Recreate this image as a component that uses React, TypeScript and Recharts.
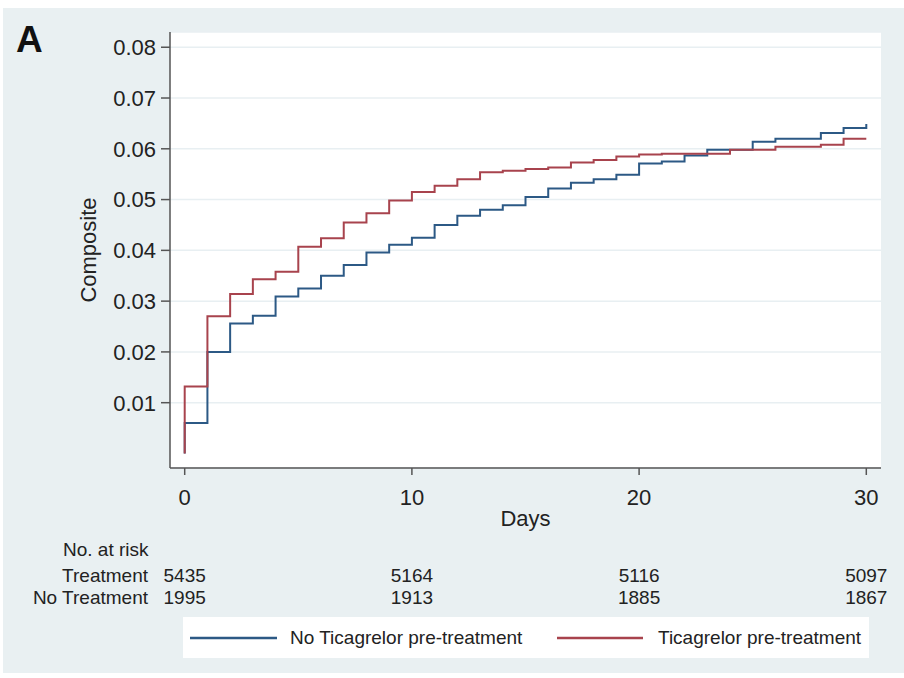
import React from "react";
import { LineChart, Line, XAxis, YAxis, CartesianGrid } from "recharts";

// Kaplan-Meier style cumulative composite event rate.
// day 0 appears twice so the curve starts at zero and jumps at day 0.
const DAYS = [0, 0, 1, 2, 3, 4, 5, 6, 7, 8, 9, 10, 11, 12, 13, 14, 15, 16, 17, 18, 19, 20, 21, 22, 23, 24, 25, 26, 27, 28, 29, 30];

const NO_TICAGRELOR = [
  0, 0.006, 0.02, 0.0256, 0.0271, 0.0309, 0.0325, 0.035, 0.0371, 0.0396, 0.0411,
  0.0425, 0.045, 0.0468, 0.048, 0.0489, 0.0505, 0.0522, 0.0533, 0.054, 0.0549,
  0.0571, 0.0575, 0.0587, 0.0598, 0.0598, 0.0614, 0.062, 0.062, 0.0631, 0.0641, 0.0649,
];

const TICAGRELOR = [
  0, 0.0132, 0.027, 0.0314, 0.0343, 0.0358, 0.0407, 0.0424, 0.0455, 0.0473, 0.0498,
  0.0515, 0.0527, 0.054, 0.0554, 0.0557, 0.056, 0.0563, 0.0573, 0.0578, 0.0585,
  0.0589, 0.059, 0.059, 0.059, 0.0598, 0.0598, 0.0604, 0.0604, 0.0608, 0.062, 0.062,
];

const X_TICKS = [0, 10, 20, 30];
const Y_TICKS = [0.01, 0.02, 0.03, 0.04, 0.05, 0.06, 0.07, 0.08];

const RISK_DAYS = [0, 10, 20, 30];
const RISK_TREATMENT = [5435, 5164, 5116, 5097];
const RISK_NO_TREATMENT = [1995, 1913, 1885, 1867];

const SERIES_NAMES = ["No Ticagrelor pre-treatment", "Ticagrelor pre-treatment"];

const BLUE = "#2c5985";
const RED = "#a8434d";
const FONT = "'Liberation Sans', Arial, Helvetica, sans-serif";

const X_MIN = -0.647;
const X_MAX = 30.647;
const PLOT_LEFT = 170;
const PLOT_WIDTH = 711;

// same mapping as the chart's x axis, used for the risk table under it
const dayToPx = (d: number) => PLOT_LEFT + ((d - X_MIN) / (X_MAX - X_MIN)) * PLOT_WIDTH;

const data = DAYS.map((day, i) => ({
  day,
  noTica: NO_TICAGRELOR[i],
  tica: TICAGRELOR[i],
}));

export default function App() {
  return (
    <div style={{ position: "absolute", left: 0, top: 0, width: 904, height: 678, background: "#fff", fontFamily: FONT }}>
      {/* graph region */}
      <div style={{ position: "absolute", left: 3, top: 8, width: 901, height: 665, background: "#e9f0f2" }} />

      <div style={{ position: "absolute", left: 0, top: 0 }}>
        <LineChart
          width={904}
          height={678}
          data={data}
          margin={{ top: 32, right: 23, bottom: 150, left: 0 }}
          style={{ fontFamily: FONT }}
        >
          <CartesianGrid vertical={false} fill="#ffffff" stroke="#e8eff2" strokeWidth={1.5} />
          <XAxis
            dataKey="day"
            type="number"
            domain={[X_MIN, X_MAX]}
            ticks={X_TICKS}
            allowDataOverflow
            height={60}
            tickSize={7}
            tickMargin={14}
            axisLine={{ stroke: "#555", strokeWidth: 1.5 }}
            tickLine={{ stroke: "#555", strokeWidth: 1.5 }}
            tick={{ fontSize: 22, fill: "#222", fontFamily: FONT }}
            label={{ value: "Days", position: "insideBottom", offset: 2, fontSize: 22, fill: "#222", fontFamily: FONT }}
          />
          <YAxis
            type="number"
            domain={[-0.00286, 0.083]}
            ticks={Y_TICKS}
            allowDataOverflow
            width={170}
            tickSize={9}
            tickMargin={5}
            tickFormatter={(v: number) => v.toFixed(2)}
            axisLine={{ stroke: "#555", strokeWidth: 1.5 }}
            tickLine={{ stroke: "#555", strokeWidth: 1.5 }}
            tick={{ fontSize: 22, fill: "#222", fontFamily: FONT }}
            label={{
              value: "Composite",
              angle: -90,
              position: "insideLeft",
              offset: 88,
              fontSize: 22,
              fill: "#222",
              fontFamily: FONT,
              style: { textAnchor: "middle" },
            }}
          />
          <Line
            type="stepAfter"
            dataKey="noTica"
            name={SERIES_NAMES[0]}
            stroke={BLUE}
            strokeWidth={2}
            dot={false}
            isAnimationActive={false}
          />
          <Line
            type="stepAfter"
            dataKey="tica"
            name={SERIES_NAMES[1]}
            stroke={RED}
            strokeWidth={2}
            dot={false}
            isAnimationActive={false}
          />
        </LineChart>
      </div>

      {/* panel letter, risk table and legend */}
      <svg width={904} height={678} style={{ position: "absolute", left: 0, top: 0, pointerEvents: "none" }} fontFamily={FONT}>
        <text x={16} y={52} fontSize={37} fontWeight="bold" fill="#111">A</text>

        <text x={63} y={556} fontSize={19} fill="#222">No. at risk</text>
        <text x={148} y={582} fontSize={19} fill="#222" textAnchor="end">Treatment</text>
        <text x={148} y={604} fontSize={19} fill="#222" textAnchor="end">No Treatment</text>
        {RISK_DAYS.map((d, i) => (
          <g key={d}>
            <text x={dayToPx(d)} y={582} fontSize={19} fill="#222" textAnchor="middle">{RISK_TREATMENT[i]}</text>
            <text x={dayToPx(d)} y={604} fontSize={19} fill="#222" textAnchor="middle">{RISK_NO_TREATMENT[i]}</text>
          </g>
        ))}

        <rect x={183} y={617} width={686} height={41} fill="#fff" />
        <line x1={190} y1={638} x2={277} y2={638} stroke={BLUE} strokeWidth={2.5} />
        <text x={290} y={644} fontSize={19} fill="#222">{SERIES_NAMES[0]}</text>
        <line x1={557} y1={638} x2={643} y2={638} stroke={RED} strokeWidth={2.5} />
        <text x={658} y={644} fontSize={19} fill="#222">{SERIES_NAMES[1]}</text>
      </svg>
    </div>
  );
}
